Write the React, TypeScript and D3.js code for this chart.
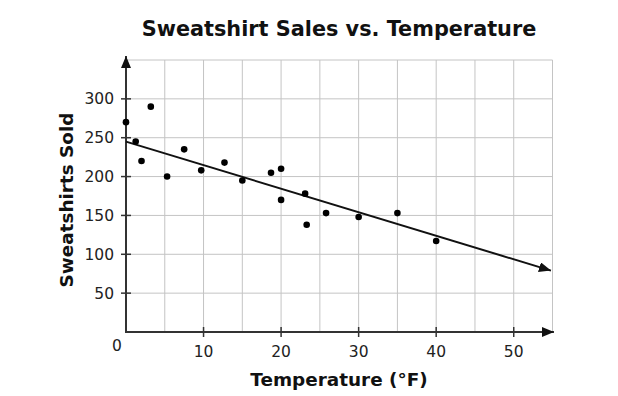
import React, { useEffect, useRef } from 'react';
import * as d3 from 'd3';

// Temperature (°F) and sweatshirts sold
const temperatures = [0, 1.25, 2, 3.2, 5.3, 7.5, 9.7, 12.7, 15, 18.7, 20, 20, 23.1, 23.3, 25.8, 30, 35, 40];
const sweatshirts = [270, 245, 220, 290, 200, 235, 208, 218, 195, 205, 210, 170, 178, 138, 153, 148, 153, 117];

// trend line end points
const trendX = [0, 54.8];
const trendY = [245, 79];

const xTicks = [10, 20, 30, 40, 50];
const yTicks = [50, 100, 150, 200, 250, 300];
const xGrid = [5, 10, 15, 20, 25, 30, 35, 40, 45, 50, 55];
const yGrid = [50, 100, 150, 200, 250, 300, 350];

const W = 618;
const H = 396;

const App = () => {
  const svgRef = useRef<SVGSVGElement>(null);

  useEffect(() => {
    if (!svgRef.current) return;
    const svg = d3.select(svgRef.current);
    svg.selectAll('*').remove();

    const font = '"DejaVu Sans", Verdana, sans-serif';
    const x = d3.scaleLinear().domain([0, 55]).range([126, 552.5]);
    const y = d3.scaleLinear().domain([0, 350]).range([332, 60]);

    const defs = svg.append('defs');
    defs.append('marker')
      .attr('id', 'arrow')
      .attr('viewBox', '0 0 12 10')
      .attr('refX', 12)
      .attr('refY', 5)
      .attr('markerWidth', 12)
      .attr('markerHeight', 10)
      .attr('markerUnits', 'userSpaceOnUse')
      .attr('orient', 'auto')
      .append('path')
      .attr('d', 'M0,0 L12,5 L0,10 Z')
      .attr('fill', '#111');

    // grid
    const grid = svg.append('g').attr('stroke', '#c4c4c4').attr('stroke-width', 1);
    grid.selectAll('.vg').data(xGrid).enter().append('line')
      .attr('x1', d => x(d)).attr('x2', d => x(d))
      .attr('y1', y(0)).attr('y2', y(350));
    grid.selectAll('.hg').data(yGrid).enter().append('line')
      .attr('x1', x(0)).attr('x2', x(55))
      .attr('y1', d => y(d)).attr('y2', d => y(d));

    // axes
    const axisColor = '#333';
    svg.append('line')
      .attr('x1', x(0)).attr('x2', x(0))
      .attr('y1', y(0) + 1).attr('y2', 56)
      .attr('stroke', axisColor).attr('stroke-width', 2)
      .attr('marker-end', 'url(#arrow)');
    svg.append('line')
      .attr('x1', x(0) - 1).attr('x2', 554)
      .attr('y1', y(0)).attr('y2', y(0))
      .attr('stroke', axisColor).attr('stroke-width', 2)
      .attr('marker-end', 'url(#arrow)');

    // ticks
    svg.selectAll('.yt').data(yTicks).enter().append('line')
      .attr('x1', x(0) - 5).attr('x2', x(0) + 5)
      .attr('y1', d => y(d)).attr('y2', d => y(d))
      .attr('stroke', axisColor).attr('stroke-width', 1.5);
    svg.selectAll('.xt').data(xTicks).enter().append('line')
      .attr('x1', d => x(d)).attr('x2', d => x(d))
      .attr('y1', y(0) - 5).attr('y2', y(0) + 5)
      .attr('stroke', axisColor).attr('stroke-width', 1.5);

    // tick labels
    svg.selectAll('.yl').data(yTicks).enter().append('text')
      .attr('x', 114).attr('y', d => y(d)).attr('dy', '0.36em')
      .attr('text-anchor', 'end')
      .attr('font-family', font).attr('font-size', 15.5).attr('fill', '#222')
      .text(d => d);
    svg.selectAll('.xl').data(xTicks).enter().append('text')
      .attr('x', d => x(d)).attr('y', 357)
      .attr('text-anchor', 'middle')
      .attr('font-family', font).attr('font-size', 15.5).attr('fill', '#222')
      .text(d => d);
    svg.append('text')
      .attr('x', 117).attr('y', 351)
      .attr('text-anchor', 'middle')
      .attr('font-family', font).attr('font-size', 15.5).attr('fill', '#222')
      .text('0');

    // trend line
    svg.append('line')
      .attr('x1', x(trendX[0])).attr('y1', y(trendY[0]))
      .attr('x2', x(trendX[1])).attr('y2', y(trendY[1]))
      .attr('stroke', '#111').attr('stroke-width', 2)
      .attr('marker-end', 'url(#arrow)');

    // points
    svg.selectAll('.pt').data(temperatures).enter().append('circle')
      .attr('cx', d => x(d))
      .attr('cy', (_, i) => y(sweatshirts[i]))
      .attr('r', 3.3)
      .attr('fill', '#000');

    // titles
    svg.append('text')
      .attr('x', 339).attr('y', 36)
      .attr('text-anchor', 'middle')
      .attr('font-family', font).attr('font-weight', 'bold').attr('font-size', 20.8)
      .attr('fill', '#111')
      .text('Sweatshirt Sales vs. Temperature');
    svg.append('text')
      .attr('x', 339).attr('y', 386)
      .attr('text-anchor', 'middle')
      .attr('font-family', font).attr('font-weight', 'bold').attr('font-size', 18.4)
      .attr('fill', '#111')
      .text('Temperature (°F)');
    svg.append('text')
      .attr('transform', 'translate(73, 200) rotate(-90)')
      .attr('text-anchor', 'middle')
      .attr('font-family', font).attr('font-weight', 'bold').attr('font-size', 18.4)
      .attr('fill', '#111')
      .text('Sweatshirts Sold');
  }, []);

  return (
    <div style={{ position: 'fixed', left: 0, top: 0, width: W, height: H, background: '#fff' }}>
      <svg ref={svgRef} width={W} height={H} viewBox={`0 0 ${W} ${H}`} style={{ display: 'block' }} />
    </div>
  );
};

export default App;
